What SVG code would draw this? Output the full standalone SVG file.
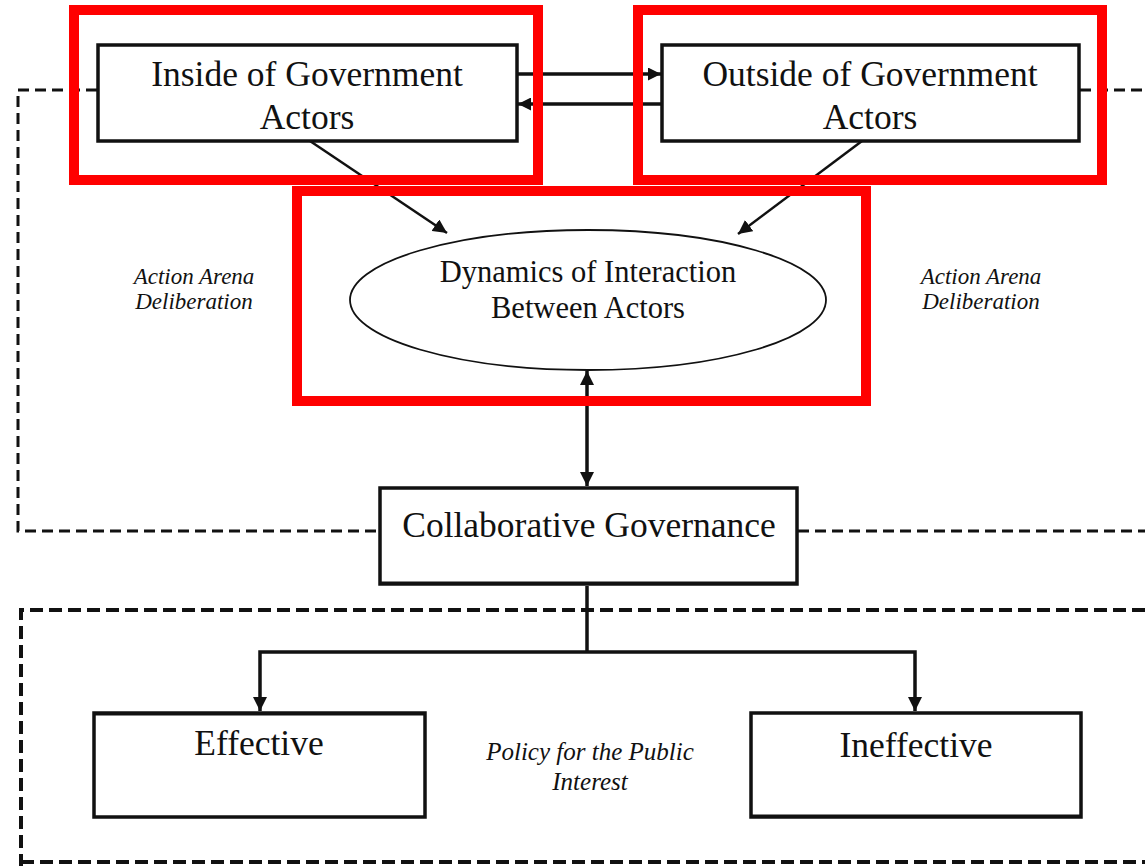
<svg xmlns="http://www.w3.org/2000/svg" width="1145" height="866" viewBox="0 0 1145 866">
<style>
.box{fill:#fff;stroke:#111;stroke-width:3.5}
.red{fill:none;stroke:#ff0000;stroke-width:10}
.t{font-family:"Liberation Serif","Times New Roman",serif;fill:#111;text-anchor:middle}
.big{font-size:35.5px}
.mid{font-size:30.5px}
.it{font-size:23px;font-style:italic}
.dash{fill:none;stroke:#111;stroke-width:3;stroke-dasharray:11 6}
.dash2{fill:none;stroke:#111;stroke-width:4;stroke-dasharray:13 6}
.c{fill:none;stroke:#111;stroke-width:3.5}
.c2{fill:none;stroke:#111;stroke-width:2.5}
</style>
<defs>
<marker id="ah" viewBox="0 0 10 10" refX="10" refY="5" markerWidth="13" markerHeight="13" markerUnits="userSpaceOnUse" orient="auto-start-reverse">
<path d="M0,0 L10,5 L0,10 z" fill="#111"/>
</marker>
<marker id="ah2" viewBox="0 0 10 10" refX="10" refY="5" markerWidth="14" markerHeight="14" markerUnits="userSpaceOnUse" orient="auto-start-reverse">
<path d="M0,0 L10,5 L0,10 z" fill="#111"/>
</marker>
</defs>
<rect width="1145" height="866" fill="#fff"/>
<g id="boundaries">
<polyline class="dash" points="97,90 18,90 18,531 379,531"/>
<polyline class="dash" points="1080,90 1145,90"/>
<polyline class="dash" points="798,531 1145,531"/>
<polyline class="dash2" points="1145,610 21,610 21,866"/>
<line class="dash2" x1="21" y1="862" x2="1145" y2="862"/>
</g>
<g id="connectors">
<line class="c" x1="517" y1="74" x2="661" y2="74" marker-end="url(#ah)"/>
<line class="c" x1="661" y1="104" x2="518" y2="104" marker-end="url(#ah)"/>
<line class="c2" x1="310" y1="141" x2="447" y2="233" marker-end="url(#ah2)"/>
<line class="c2" x1="862" y1="141" x2="738" y2="234" marker-end="url(#ah2)"/>
<line class="c" x1="587" y1="371" x2="587" y2="486" marker-start="url(#ah2)" marker-end="url(#ah2)"/>
<polyline class="c" points="587,586 587,652"/>
<polyline class="c" points="260,711 260,652 915,652 915,711" marker-start="url(#ah2)" marker-end="url(#ah2)"/>
</g>
<g id="inside">
<rect class="box" x="98" y="45" width="419" height="96"/>
<text class="t big" x="307" y="86">Inside of Government</text>
<text class="t big" x="307" y="129">Actors</text>
</g>
<g id="outside">
<rect class="box" x="662" y="45" width="417" height="96"/>
<text class="t big" x="870" y="86">Outside of Government</text>
<text class="t big" x="870" y="129">Actors</text>
</g>
<g id="dynamics">
<ellipse cx="588" cy="300" rx="238" ry="70" fill="#fff" stroke="#111" stroke-width="1.8"/>
<text class="t mid" x="588" y="282">Dynamics of Interaction</text>
<text class="t mid" x="588" y="318">Between Actors</text>
</g>
<g id="collab">
<rect class="box" x="380" y="488" width="417" height="96"/>
<line x1="380" y1="583" x2="797" y2="583" stroke="#111" stroke-width="3"/>
<text class="t big" x="589" y="537">Collaborative Governance</text>
</g>
<g id="effective">
<rect class="box" x="94" y="713" width="331" height="104"/>
<line x1="94" y1="714" x2="425" y2="714" stroke="#111" stroke-width="3"/>
<text class="t big" x="259" y="755">Effective</text>
</g>
<g id="ineffective">
<rect class="box" x="751" y="713" width="330" height="104"/>
<line x1="751" y1="816" x2="1081" y2="816" stroke="#111" stroke-width="3"/>
<text class="t big" x="916" y="757">Ineffective</text>
</g>
<g id="labels">
<text class="t it" x="194" y="284">Action Arena</text>
<text class="t it" x="194" y="309">Deliberation</text>
<text class="t it" x="981" y="284">Action Arena</text>
<text class="t it" x="981" y="309">Deliberation</text>
<text class="t it" x="590" y="760" style="font-size:25px">Policy for the Public</text>
<text class="t it" x="590" y="790" style="font-size:25px">Interest</text>
</g>
<g id="highlights">
<rect class="red" x="74" y="10" width="464" height="170"/>
<rect class="red" x="638" y="10" width="464" height="170"/>
<rect class="red" x="297" y="191" width="569" height="210"/>
</g>
</svg>
